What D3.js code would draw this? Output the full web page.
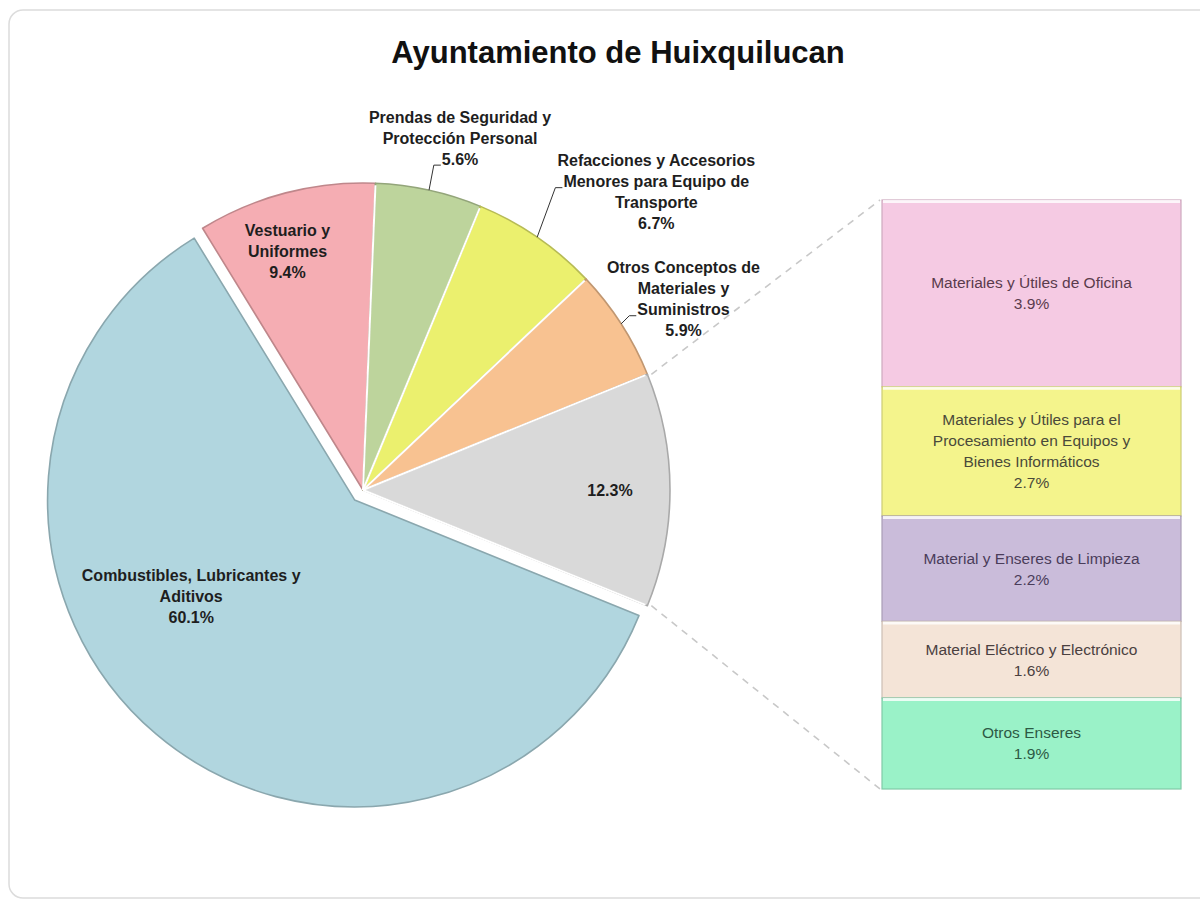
<!DOCTYPE html>
<html>
<head>
<meta charset="utf-8">
<script src="https://cdn.jsdelivr.net/npm/d3@7"></script>
<style>
  body { margin: 0; background: #fff; }
  svg { display: block; font-family: "Liberation Sans", Arial, sans-serif; }
</style>
</head>
<body>
<div id="chart"></div>
<script>
// main pie: values in %
const pieLabels = [
    ["Vestuario y", "Uniformes"],
    ["Prendas de Seguridad y", "Protección Personal"],
    ["Refacciones y Accesorios", "Menores para Equipo de", "Transporte"],
    ["Otros Conceptos de", "Materiales y", "Suministros"],
    [],
    ["Combustibles, Lubricantes y", "Aditivos"]
];
const pieValues = [9.4, 5.6, 6.7, 5.9, 12.3, 60.1];
const pieColors = ["#f5adb3", "#bdd49c", "#ebf06e", "#f8c291", "#d9d9d9", "#b1d6df"];

// breakdown of the 12.3% slice
const barLabels = [
    ["Materiales y Útiles de Oficina"],
    ["Materiales y Útiles para el", "Procesamiento en Equipos y", "Bienes Informáticos"],
    ["Material y Enseres de Limpieza"],
    ["Material Eléctrico y Electrónico"],
    ["Otros Enseres"]
];
const barValues = [3.9, 2.7, 2.2, 1.6, 1.9];
const barColors = ["#f5cae3", "#f4f48c", "#cabcda", "#f4e4d7", "#9af2c8"];
const barText = ["#5a3b4c", "#4a4a3a", "#4a3d5a", "#4a4040", "#2d5a44"];

const width = 1200, height = 906;
const cx = 363, cy = 490, R = 307;
const rad = Math.PI / 180;

const svg = d3.select("#chart").append("svg")
    .attr("width", width)
    .attr("height", height);

// outer frame
svg.append("rect")
    .attr("x", 9).attr("y", 10)
    .attr("width", 1210).attr("height", 888)
    .attr("rx", 14)
    .attr("fill", "#fff")
    .attr("stroke", "#dcdcdc")
    .attr("stroke-width", 1.5);

svg.append("text")
    .attr("x", 618).attr("y", 63)
    .attr("text-anchor", "middle")
    .attr("font-size", 31)
    .attr("font-weight", "bold")
    .attr("fill", "#111")
    .text("Ayuntamiento de Huixquilucan");

const pie = d3.pie().sort(null)
    .startAngle(-31.5 * rad)
    .endAngle(328.5 * rad);
const arcs = pie(pieValues);
const arc = d3.arc().innerRadius(0).outerRadius(R);
const pt = (a, r) => [cx + r * Math.sin(a), cy - r * Math.cos(a)];

const explodeIdx = 5, explode = 13;
const offset = (d, i) => {
    if (i !== explodeIdx) return [0, 0];
    const m = (d.startAngle + d.endAngle) / 2;
    return [explode * Math.sin(m), -explode * Math.cos(m)];
};

const pg = svg.append("g").attr("transform", `translate(${cx},${cy})`);
pg.selectAll("path.slice")
    .data(arcs)
    .join("path")
    .attr("class", "slice")
    .attr("transform", (d, i) => `translate(${offset(d, i)})`)
    .attr("d", arc)
    .attr("fill", (d, i) => pieColors[i])
    .attr("stroke", (d, i) => d3.color(pieColors[i]).darker(0.7))
    .attr("stroke-width", 1.6)
    .attr("stroke-linejoin", "round");

// white separators between slices
pg.selectAll("line.sep")
    .data(arcs.slice(0, 5))
    .join("line")
    .attr("x1", 0).attr("y1", 0)
    .attr("x2", d => (R - 2) * Math.sin(d.endAngle))
    .attr("y2", d => -(R - 2) * Math.cos(d.endAngle))
    .attr("stroke", "#fff")
    .attr("stroke-width", 2);

// label placement: [angle offset from slice middle (deg), radius, inside?, leader line index]
const labelPlace = [
    [-3, 250, true, -1],
    [3, 365, false, 2],
    [10, 418, false, 1],
    [2, 373, false, 2],
    [0, 247, true, -1],
    [19, 190, true, -1]
];
const lineH = 21;

arcs.forEach((d, i) => {
    const [da, r, inside] = labelPlace[i];
    const m = (d.startAngle + d.endAngle) / 2;
    const off = offset(d, i);
    const [lx, ly] = pt(m + da * rad, r);
    const lines = pieLabels[i].concat([d3.format(".1f")(pieValues[i]) + "%"]);
    const t = svg.append("text")
        .attr("text-anchor", "middle")
        .attr("font-size", 16)
        .attr("font-weight", "bold")
        .attr("fill", "#1e1e1e");
    const y0 = ly + off[1] - (lines.length - 1) * lineH / 2;
    lines.forEach((s, k) => {
        t.append("tspan")
            .attr("x", lx + off[0])
            .attr("y", y0 + k * lineH)
            .attr("dy", "0.35em")
            .text(s);
    });
    if (!inside) {
        const k = labelPlace[i][3];
        const box = t.selectAll("tspan").nodes()[k].getBBox();
        const yEnd = y0 + k * lineH + 6;
        const [ax, ay] = pt(m, R);
        svg.append("path")
            .attr("d", `M${ax},${ay}L${box.x - 8},${yEnd}L${box.x - 1},${yEnd}`)
            .attr("fill", "none")
            .attr("stroke", "#333")
            .attr("stroke-width", 1);
    }
});

// breakdown bar
const barX = 882, barW = 299;
const total = d3.sum(barValues);
const y = d3.scaleLinear().domain([0, total]).range([200, 789]);
const cum = [0].concat(Array.from(d3.cumsum(barValues)));

// connector lines from the 12.3% slice
const gray = arcs[4];
const p1 = pt(gray.startAngle, R), p2 = pt(gray.endAngle, R);
svg.selectAll("line.conn")
    .data([[p1, [barX, y(0)]], [p2, [barX, y(total)]]])
    .join("line")
    .attr("x1", d => d[0][0] + 4).attr("y1", d => d[0][1])
    .attr("x2", d => d[1][0] - 2).attr("y2", d => d[1][1])
    .attr("stroke", "#c8c8c8")
    .attr("stroke-width", 1.6)
    .attr("stroke-dasharray", "7,6");

const bg = svg.append("g");
bg.selectAll("rect")
    .data(barValues)
    .join("rect")
    .attr("x", barX)
    .attr("y", (d, i) => y(cum[i]))
    .attr("width", barW)
    .attr("height", d => y(d) - y(0))
    .attr("fill", (d, i) => barColors[i])
    .attr("stroke", (d, i) => d3.color(barColors[i]).darker(0.5))
    .attr("stroke-width", 1.2);

// light top edge on each segment
bg.selectAll("line")
    .data(barValues)
    .join("line")
    .attr("x1", barX + 1).attr("x2", barX + barW - 1)
    .attr("y1", (d, i) => y(cum[i]) + 1.5)
    .attr("y2", (d, i) => y(cum[i]) + 1.5)
    .attr("stroke", "#fff")
    .attr("stroke-opacity", 0.8)
    .attr("stroke-width", 3);

barValues.forEach((v, i) => {
    const lines = barLabels[i].concat([d3.format(".1f")(v) + "%"]);
    const mid = (y(cum[i]) + y(cum[i + 1])) / 2;
    const t = bg.append("text")
        .attr("text-anchor", "middle")
        .attr("font-size", 15.5)
        .attr("fill", barText[i]);
    lines.forEach((s, k) => {
        t.append("tspan")
            .attr("x", barX + barW / 2)
            .attr("y", mid + (k - (lines.length - 1) / 2) * lineH)
            .attr("dy", "0.35em")
            .text(s);
    });
});
</script>
</body>
</html>
